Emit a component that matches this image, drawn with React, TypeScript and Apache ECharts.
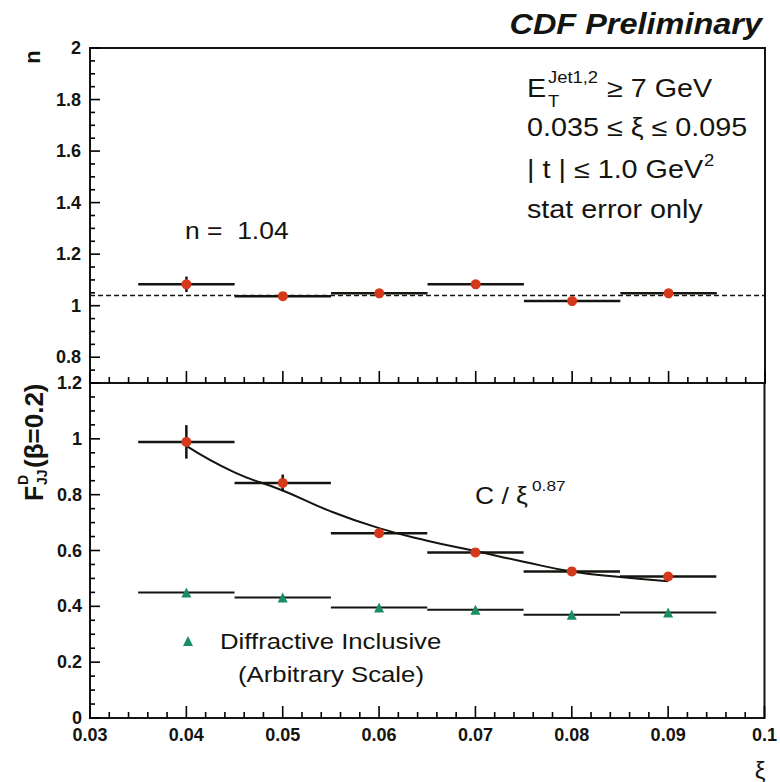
import React, { useEffect, useRef } from "react";
import * as echarts from "echarts";

// ---------- data ----------
const xiCenters = [0.04, 0.05, 0.06, 0.07, 0.08, 0.09];
const xiLow = [0.035, 0.045, 0.055, 0.065, 0.075, 0.085];
const xiHigh = [0.045, 0.055, 0.065, 0.075, 0.085, 0.095];

const nValues = [1.083, 1.037, 1.048, 1.083, 1.018, 1.048];
const nErrors = [0.03, 0.012, 0.012, 0.012, 0.012, 0.012];
const nFitValue = 1.04;

const fjjValues = [0.989, 0.842, 0.662, 0.593, 0.525, 0.507];
const fjjErrors = [0.06, 0.03, 0.015, 0.012, 0.012, 0.012];

const inclValues = [0.45, 0.432, 0.396, 0.388, 0.37, 0.378];
const inclErrors = [0.005, 0.005, 0.005, 0.005, 0.005, 0.005];

const fitXi = [0.04, 0.045, 0.05, 0.055, 0.06, 0.065, 0.07, 0.075, 0.08, 0.085, 0.09];
const fitValues = [0.975, 0.88, 0.815, 0.74, 0.68, 0.635, 0.598, 0.56, 0.525, 0.505, 0.49];

// axes
const xiRange = [0.03, 0.1];
const xiStep = 0.01;
const xiMajorTicks = [0.03, 0.04, 0.05, 0.06, 0.07, 0.08, 0.09, 0.1];
const xiMinorTicks = [
  0.032, 0.034, 0.036, 0.038, 0.042, 0.044, 0.046, 0.048, 0.052, 0.054, 0.056, 0.058,
  0.062, 0.064, 0.066, 0.068, 0.072, 0.074, 0.076, 0.078, 0.082, 0.084, 0.086, 0.088,
  0.092, 0.094, 0.096, 0.098,
];
const nRange = [0.7, 2];
const nLabelRange = [0.8, 2];
const nStep = 0.2;
const nMajorTicks = [0.8, 1.0, 1.2, 1.4, 1.6, 1.8, 2.0];
const nMinorTicks = [
  0.7, 0.75, 0.85, 0.9, 0.95, 1.05, 1.1, 1.15, 1.25, 1.3, 1.35, 1.45, 1.5, 1.55,
  1.65, 1.7, 1.75, 1.85, 1.9, 1.95,
];
const fRange = [0, 1.2];
const fStep = 0.2;
const fMajorTicks = [0, 0.2, 0.4, 0.6, 0.8, 1.0, 1.2];
const fMinorTicks = [
  0.05, 0.1, 0.15, 0.25, 0.3, 0.35, 0.45, 0.5, 0.55, 0.65, 0.7, 0.75, 0.85, 0.9, 0.95,
  1.05, 1.1, 1.15,
];

// ---------- helpers ----------
const FONT = "Liberation Sans, Arial, Helvetica, sans-serif";
const INK = "#141410";
const RED = "#d5391c";
const GREEN = "#1b8d63";

const errRows = (vals: number[], errs: number[]) =>
  xiCenters.map((x, i) => [x, vals[i], xiLow[i], xiHigh[i], vals[i] - errs[i], vals[i] + errs[i]]);

const errorBarItem = (width: number) => (_params: any, api: any) => {
  const x = api.value(0);
  const y = api.value(1);
  const a = api.coord([api.value(2), y]);
  const b = api.coord([api.value(3), y]);
  const c = api.coord([x, api.value(4)]);
  const d = api.coord([x, api.value(5)]);
  return {
    type: "group",
    children: [
      { type: "line", shape: { x1: a[0], y1: a[1], x2: b[0], y2: b[1] }, style: { stroke: INK, lineWidth: width } },
      { type: "line", shape: { x1: c[0], y1: c[1], x2: d[0], y2: d[1] }, style: { stroke: INK, lineWidth: width } },
    ],
  };
};

// ticks as a custom series of thin filled rectangles
// rows: [x, y, dir(0 = vertical tick on x axis, 1 = horizontal tick on y axis), length]
const tickSeries = (axisIdx: number, rows: number[][]) => ({
  type: "custom",
  xAxisIndex: axisIdx,
  yAxisIndex: axisIdx,
  silent: true,
  z: 10,
  data: rows,
  encode: { x: 0, y: 1, tooltip: [2, 3] },
  renderItem: (_p: any, api: any) => {
    const p = api.coord([api.value(0), api.value(1)]);
    const dir = api.value(2);
    const len = api.value(3);
    const w = 1.6;
    const shape =
      dir === 0
        ? { x: p[0] - w / 2, y: p[1] - len, width: w, height: len }
        : { x: p[0], y: p[1] - w / 2, width: len, height: w };
    return { type: "rect", shape, style: { fill: "#000" } };
  },
});

const labelStyle = { color: INK, fontFamily: FONT, fontWeight: "bold" as const, fontSize: 18 };

const txt = (text: string, x: number, y: number, fontSize: number, extra: any = {}) => ({
  type: "text",
  x,
  y,
  scaleX: extra.scaleX ?? 1.15,
  rotation: extra.rotation ?? 0,
  z: 100,
  style: {
    text,
    fontSize,
    fontFamily: FONT,
    fontWeight: extra.fontWeight ?? "normal",
    fontStyle: extra.fontStyle ?? "normal",
    fill: INK,
    align: extra.align ?? "left",
    verticalAlign: "middle",
  },
});

export default function App() {
  const ref = useRef<HTMLDivElement>(null);

  useEffect(() => {
    if (!ref.current) return;
    const chart = echarts.init(ref.current, undefined, { renderer: "svg" });

    const xAxisBase = {
      type: "value",
      min: xiRange[0],
      max: xiRange[1],
      interval: xiStep,
      axisLine: { show: false },
      axisTick: { show: false },
      splitLine: { show: false },
    };

    const panelTicks = (yMin: number, yMajors: number[], yMinors: number[]) => [
      ...xiMajorTicks.map((v) => [v, yMin, 0, 12]),
      ...xiMinorTicks.map((v) => [v, yMin, 0, 6]),
      ...yMajors.map((v) => [xiRange[0], v, 1, 10]),
      ...yMinors.map((v) => [xiRange[0], v, 1, 5]),
    ];

    const option: any = {
      animation: false,
      backgroundColor: "#ffffff",
      grid: [
        { left: 90, right: 15, top: 48, height: 335, show: true, borderColor: INK, borderWidth: 2 },
        { left: 90, right: 15, top: 383, height: 335, show: true, borderColor: INK, borderWidth: 2 },
        { left: 90, right: 15, top: 48, height: 309, show: false },
      ],
      xAxis: [
        { ...xAxisBase, gridIndex: 0, axisLabel: { show: false } },
        { ...xAxisBase, gridIndex: 1, axisLabel: { ...labelStyle, margin: 8 } },
        { type: "value", gridIndex: 2, min: xiRange[0], max: xiRange[1], show: false },
      ],
      yAxis: [
        {
          type: "value",
          gridIndex: 0,
          min: nRange[0],
          max: nRange[1],
          interval: 0.1,
          axisLine: { show: false },
          axisTick: { show: false },
          axisLabel: { show: false },
          splitLine: { show: false },
        },
        {
          type: "value",
          gridIndex: 1,
          min: fRange[0],
          max: fRange[1],
          interval: fStep,
          axisLine: { show: false },
          axisTick: { show: false },
          axisLabel: { ...labelStyle, margin: 8 },
          splitLine: { show: false },
        },
        {
          type: "value",
          gridIndex: 2,
          min: nLabelRange[0],
          max: nLabelRange[1],
          interval: nStep,
          axisLine: { show: false },
          axisTick: { show: false },
          axisLabel: { ...labelStyle, margin: 9 },
          splitLine: { show: false },
        },
      ],
      series: [
        {
          type: "line",
          xAxisIndex: 0,
          yAxisIndex: 0,
          data: [[xiRange[0], nFitValue], [xiRange[1], nFitValue]],
          symbol: "none",
          lineStyle: { color: INK, width: 1.5, type: [5, 3] },
          z: 2,
        },
        {
          type: "custom",
          xAxisIndex: 0,
          yAxisIndex: 0,
          data: errRows(nValues, nErrors),
          encode: { x: [0, 2, 3], y: [1, 4, 5] },
          renderItem: errorBarItem(2.5),
          z: 3,
        },
        {
          type: "scatter",
          xAxisIndex: 0,
          yAxisIndex: 0,
          data: xiCenters.map((x, i) => [x, nValues[i]]),
          symbol: "circle",
          symbolSize: 10,
          itemStyle: { color: RED, opacity: 1 },
          z: 5,
        },
        {
          type: "custom",
          xAxisIndex: 1,
          yAxisIndex: 1,
          data: errRows(fjjValues, fjjErrors),
          encode: { x: [0, 2, 3], y: [1, 4, 5] },
          renderItem: errorBarItem(2.5),
          z: 3,
        },
        {
          type: "custom",
          xAxisIndex: 1,
          yAxisIndex: 1,
          data: errRows(inclValues, inclErrors),
          encode: { x: [0, 2, 3], y: [1, 4, 5] },
          renderItem: errorBarItem(2),
          z: 3,
        },
        {
          type: "line",
          xAxisIndex: 1,
          yAxisIndex: 1,
          data: fitXi.map((x, i) => [x, fitValues[i]]),
          symbol: "none",
          smooth: true,
          lineStyle: { color: INK, width: 2 },
          z: 4,
        },
        {
          type: "scatter",
          xAxisIndex: 1,
          yAxisIndex: 1,
          data: xiCenters.map((x, i) => [x, fjjValues[i]]),
          symbol: "circle",
          symbolSize: 10,
          itemStyle: { color: RED, opacity: 1 },
          z: 5,
        },
        {
          type: "scatter",
          xAxisIndex: 1,
          yAxisIndex: 1,
          data: xiCenters.map((x, i) => [x, inclValues[i]]),
          symbol: "triangle",
          symbolSize: 10,
          itemStyle: { color: GREEN, opacity: 1 },
          z: 5,
        },
        tickSeries(0, panelTicks(nRange[0], nMajorTicks, nMinorTicks)),
        tickSeries(1, panelTicks(fRange[0], fMajorTicks, fMinorTicks)),
      ],
      graphic: [
        txt("CDF Preliminary", 762, 24, 29, { fontWeight: "bold", fontStyle: "italic", align: "right", scaleX: 1.12 }),
        txt("E", 527, 89, 25),
        txt("Jet1,2", 548, 77, 16),
        txt("T", 548, 101, 16),
        txt("\u2265 7 GeV", 607, 89, 25),
        txt("0.035 \u2264 \u03be \u2264 0.095", 527, 128, 25),
        txt("| t | \u2264 1.0 GeV", 527, 170, 25),
        txt("2", 704, 160, 16),
        txt("stat error only", 527, 210, 25),
        txt("n =  1.04", 185, 231, 23),
        txt("C / \u03be", 475, 496, 23),
        txt("0.87", 532, 485, 15),
        txt("Diffractive Inclusive", 220, 641, 23, { scaleX: 1.12 }),
        txt("(Arbitrary Scale)", 238, 674, 23, { scaleX: 1.12 }),
        txt("\u03be", 760, 770, 24, { align: "center", scaleX: 1 }),
        txt("n", 32, 57, 22, { fontWeight: "bold", rotation: Math.PI / 2, align: "center", scaleX: 1 }),
        {
          type: "group",
          x: 34,
          y: 501,
          rotation: Math.PI / 2,
          z: 100,
          children: [
            txt("F", 0, 0, 25, { fontWeight: "bold", scaleX: 1 }),
            txt("D", 16, -11, 14, { fontWeight: "bold", scaleX: 1 }),
            txt("JJ", 16, 8, 14, { fontWeight: "bold", scaleX: 1 }),
            txt("(\u03b2=0.2)", 33, 0, 26, { fontWeight: "bold", scaleX: 1 }),
          ],
        },
        {
          type: "polygon",
          z: 100,
          shape: { points: [[183, 646], [193, 646], [188, 636]] },
          style: { fill: GREEN },
        },
      ],
    };

    chart.setOption(option);
    return () => chart.dispose();
  }, []);

  return (
    <div
      ref={ref}
      style={{ position: "fixed", left: 0, top: 0, width: 780, height: 782, background: "#fff" }}
    />
  );
}
